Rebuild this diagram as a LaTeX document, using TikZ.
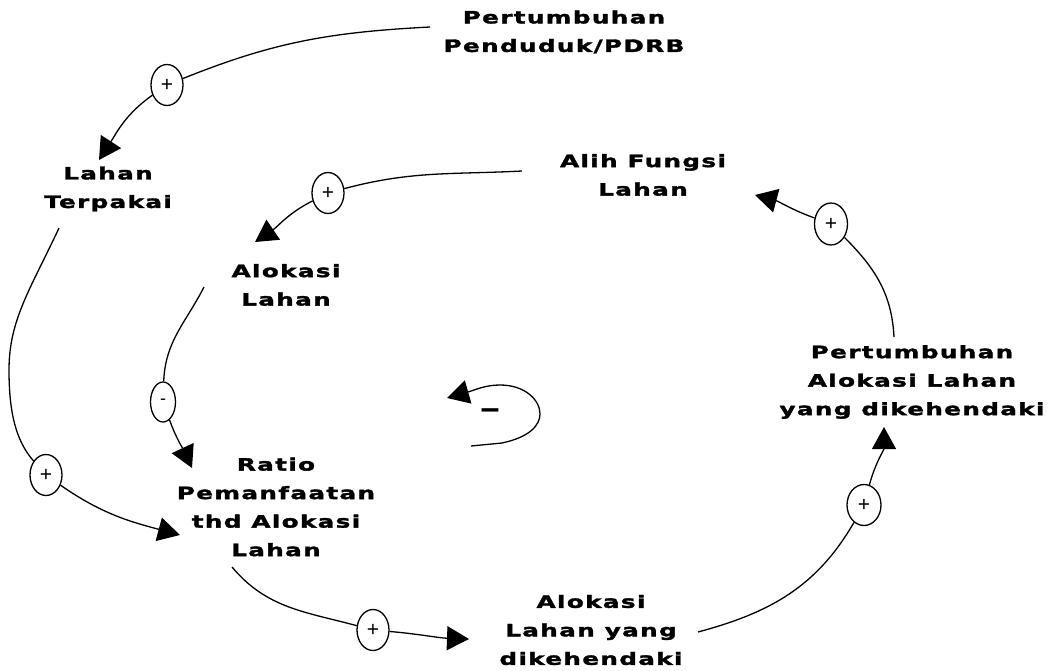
\documentclass[tikz,border=0pt]{standalone}
\usepackage{fontspec}
\setmainfont{Liberation Sans}
\newfontfamily\lblfont{DejaVu Sans Bold}[FakeStretch=1.45,LetterSpace=8,FakeBold=2]
\usetikzlibrary{arrows.meta,shapes.geometric}
\begin{document}
\begin{tikzpicture}[x=1pt,y=1pt,
  lbl/.style={align=center,inner sep=0pt,font=\lblfont\fontsize{17}{28.5}\selectfont},
  pol/.style={ellipse,draw,line width=1.3pt,fill=white,minimum width=32pt,minimum height=41pt,inner sep=0pt,font=\fontsize{21}{21}\selectfont},
  wire/.style={line width=1.3pt},
  link/.style={line width=1.3pt,-{Triangle[length=22pt,width=24pt]}},
  ]
\useasboundingbox (0,0) rectangle (1057,-671);
% variables
\node[lbl] (ppd) at (564,-32) {Pertumbuhan\\Penduduk/PDRB};
\node[lbl] (lt) at (108,-189) {Lahan\\Terpakai};
\node[lbl] (afl) at (643,-175) {Alih Fungsi\\Lahan};
\node[lbl] (al) at (286,-285) {Alokasi\\Lahan};
\node[lbl] (pal) at (912,-382) {Pertumbuhan\\Alokasi Lahan\\yang dikehendaki};
\node[lbl] (rpa) at (276,-507) {Ratio\\Pemanfaatan\\thd Alokasi\\Lahan};
\node[lbl] (ald) at (591,-630) {Alokasi\\Lahan yang\\dikehendaki};
% polarity markers
\node[pol] (p1) at (167,-85) {+};
\node[pol] (p2) at (328,-193) {+};
\node[pol] (p3) at (46,-475) {+};
\node[pol,minimum width=25pt,minimum height=40pt,font=\fontsize{18}{18}\selectfont] (p4) at (163,-402) {-};
\node[pol] (p5) at (373,-630) {+};
\node[pol,minimum width=34pt] (p6) at (864,-505) {+};
\node[pol,minimum width=33pt,minimum height=42pt] (p7) at (831,-224) {+};
% connector ends
\coordinate (s1) at (430,-27);  \coordinate (e1) at (99,-160);
\coordinate (s2) at (522,-171); \coordinate (e2) at (255,-242);
\coordinate (s3) at (59,-228);  \coordinate (e3) at (180,-535);
\coordinate (s4) at (204,-287); \coordinate (e4) at (192,-468);
\coordinate (s5) at (232,-567); \coordinate (e5) at (469,-639);
\coordinate (s6) at (698,-632); \coordinate (e6) at (884,-427);
\coordinate (s7) at (894,-337); \coordinate (e7) at (755,-195);
% connectors
\draw[wire] (s1) to[out=183,in=22] (p1);
\draw[link] (p1) to[out=215,in=57] (e1);
\draw[wire] (s2) to[out=183,in=15] (p2);
\draw[link] (p2) to[out=207,in=34] (e2);
\draw[wire] (s3) .. controls (30,-290) and (9,-320) .. (9,-370) .. controls (9,-410) and (15,-440) .. (p3);
\draw[link] (p3) to[out=-35,in=165] (e3);
\draw[wire] (s4) to[out=243,in=88] (p4);
\draw[link] (p4) to[out=-70,in=115] (e4);
\draw[wire] (s5) to[out=-50,in=165] (p5);
\draw[link] (p5) to[out=-5,in=178] (e5);
\draw[wire] (s6) to[out=15,in=240] (p6);
\draw[link] (p6) to[out=75,in=-90] (e6);
\draw[wire] (s7) to[out=93,in=-45] (p7);
\draw[link] (p7) to[out=160,in=-15] (e7);
% loop marker
\coordinate (l0) at (471,-446);
\coordinate (le) at (447,-398);
\draw[link] (l0) -- (502,-443) .. controls (530,-437) and (540,-425) .. (540,-414) .. controls (540,-400) and (525,-385) .. (500,-385) .. controls (485,-385) and (475,-390) .. (le);
\node[font=\bfseries\fontsize{34}{34}\selectfont,inner sep=0pt] (neg) at (490,-414) {–};
\end{tikzpicture}
\end{document}
